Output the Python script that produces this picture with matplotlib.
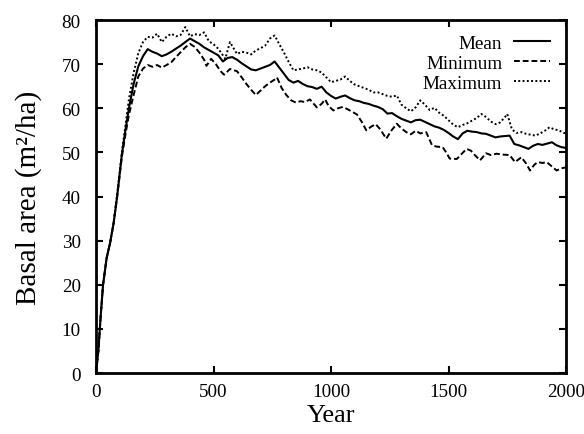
import numpy as np
import matplotlib
matplotlib.use("Agg")
import matplotlib.pyplot as plt

plt.rcParams['font.family'] = ['Liberation Serif', 'DejaVu Serif']

# values (year, basal area m2/ha)
mean_years = [0, 10, 20, 30, 45, 60, 75, 90, 110, 125, 140, 160, 180, 200, 220,
              240, 260, 280, 300, 320, 340, 360, 380, 400, 420, 440, 460, 480, 500,
              520, 540, 560, 580, 600, 620, 640, 660, 680, 700, 720, 740, 760, 780,
              800, 820, 840, 860, 880, 900, 920, 940, 960, 980, 1000, 1020, 1040,
              1060, 1080, 1100, 1120, 1140, 1160, 1180, 1200, 1220, 1240, 1260, 1280,
              1300, 1320, 1340, 1360, 1380, 1400, 1420, 1440, 1460, 1480, 1500, 1520,
              1540, 1560, 1580, 1600, 1620, 1640, 1660, 1680, 1700, 1720, 1740, 1760,
              1780, 1800, 1820, 1840, 1860, 1880, 1900, 1920, 1940, 1960, 1980, 2000]
mean_vals = [0, 5, 13, 20, 26, 29.5, 34, 40, 49.5, 55, 60, 65.5, 69.5, 71.8, 73.4,
             72.8, 72.4, 71.8, 72.2, 72.8, 73.5, 74.2, 75.0, 75.8, 75.2, 74.6, 73.8, 73.2, 72.6,
             72.0, 70.6, 71.4, 71.6, 71.0, 70.2, 69.5, 68.8, 68.6, 69.0, 69.4, 69.8, 70.6, 69.2,
             67.8, 66.4, 65.8, 66.2, 65.5, 65.0, 64.8, 64.4, 64.9, 63.6, 62.8, 62.2, 62.6,
             62.9, 62.3, 61.8, 61.6, 61.2, 61.0, 60.6, 60.3, 59.8, 58.8, 58.9, 58.2,
             57.6, 57.2, 56.8, 57.3, 57.4, 56.9, 56.4, 55.9, 55.6, 55.1, 54.4, 53.6,
             53.0, 54.3, 54.9, 54.7, 54.6, 54.3, 54.2, 53.8, 53.4, 53.6, 53.7, 53.8,
             51.9, 51.6, 51.2, 50.8, 51.5, 51.9, 51.7, 52.0, 52.3, 51.6, 51.2, 51.0]

min_years = [0, 10, 20, 30, 45, 60, 75, 90, 110, 125, 140, 160, 180, 200, 220,
             240, 260, 280, 300, 320, 340, 360, 380, 400, 420, 440, 460, 470, 490,
             510, 530, 545, 570, 600, 620, 640, 660, 680, 700, 720, 740, 760, 770,
             790, 810, 830, 850, 870, 890, 910, 940, 960, 975, 990, 1010, 1030, 1050,
             1070, 1090, 1110, 1130, 1150, 1170, 1190, 1210, 1235, 1255, 1280, 1300,
             1320, 1340, 1360, 1380, 1405, 1430, 1450, 1475, 1490, 1505, 1535, 1555,
             1577, 1595, 1610, 1634, 1660, 1680, 1705, 1730, 1760, 1783, 1810, 1830,
             1847, 1865, 1880, 1900, 1918, 1940, 1960, 1980, 2000]
min_vals = [0, 5, 13, 20, 26, 29.5, 34, 40, 49, 54, 58.5, 63, 67.2, 69.0, 69.8,
            69.4, 69.8, 69.2, 69.8, 70.4, 71.6, 72.7, 73.8, 74.6, 73.9, 72.6, 71.0, 69.6, 71.2,
            70.0, 68.4, 67.6, 68.9, 68.4, 67.0, 65.5, 64.2, 63.0, 64.0, 65.0, 65.8, 66.5, 67.0,
            64.6, 63.0, 61.8, 61.3, 61.6, 61.4, 62.0, 60.2, 61.0, 62.0, 60.5, 59.5, 60.0, 60.3,
            59.8, 59.2, 58.6, 57.0, 55.0, 55.8, 56.4, 55.2, 53.1, 54.8, 56.5, 55.4,
            54.6, 54.1, 54.9, 54.3, 54.6, 51.6, 51.3, 51.2, 50.0, 48.6, 48.5, 49.6,
            50.8, 50.4, 49.5, 48.2, 49.8, 49.4, 49.7, 49.5, 49.4, 47.8, 48.9, 47.5,
            45.9, 47.2, 47.8, 47.6, 47.8, 46.8, 45.9, 46.4, 46.6]

max_years = [0, 10, 20, 30, 45, 60, 75, 90, 110, 125, 140, 160, 180, 200, 220,
             240, 260, 280, 300, 320, 340, 360, 380, 400, 420, 440, 460, 480, 500,
             520, 540, 550, 570, 600, 620, 640, 660, 680, 700, 720, 740, 760, 780,
             800, 820, 840, 860, 880, 900, 920, 940, 960, 980, 1000, 1020, 1040,
             1060, 1080, 1100, 1120, 1140, 1160, 1180, 1200, 1220, 1240, 1260, 1280,
             1300, 1320, 1340, 1360, 1380, 1400, 1420, 1440, 1460, 1480, 1500, 1520,
             1540, 1560, 1580, 1600, 1620, 1640, 1660, 1680, 1700, 1720, 1740, 1750,
             1770, 1790, 1810, 1830, 1850, 1870, 1890, 1910, 1930, 1950, 1970, 1990, 2000]
max_vals = [0, 5, 13, 20, 26, 29.5, 34, 40.5, 50, 56, 62, 68, 72.5, 75.0, 76.2,
            76.0, 76.9, 75.0, 76.2, 76.9, 76.3, 76.6, 78.4, 76.3, 76.8, 76.6, 77.2, 75.2, 74.5,
            73.5, 72.0, 71.2, 75.0, 72.3, 72.8, 72.6, 72.2, 73.1, 73.6, 74.2, 75.8, 76.5, 74.5,
            72.6, 70.5, 68.6, 68.8, 69.0, 69.3, 68.8, 68.6, 68.1, 67.0, 65.9, 66.2, 66.5,
            67.2, 66.2, 65.4, 65.0, 64.6, 64.2, 63.6, 63.6, 63.2, 62.8, 62.6, 62.9,
            60.8, 60.0, 59.3, 60.2, 61.8, 60.8, 59.6, 60.1, 59.0, 58.3, 57.3, 56.3,
            55.7, 56.2, 56.6, 57.2, 57.8, 58.7, 58.0, 57.0, 56.4, 56.8, 58.0, 58.7,
            55.2, 54.4, 54.6, 54.2, 54.0, 53.8, 54.3, 54.9, 55.7, 55.2, 55.0, 54.4, 54.4]

fig = plt.figure(figsize=(5.84, 4.35), dpi=100)
ax = fig.add_axes([0.1644, 0.1402, 0.8048, 0.8115])

ax.plot(mean_years, mean_vals, color='black', lw=1.5, label='Mean')
ax.plot(min_years, min_vals, color='black', lw=1.4, ls=(0, (3, 1.5)), label='Minimum')
ax.plot(max_years, max_vals, color='black', lw=1.4, ls=(0, (1, 1.2)), label='Maximum')

ax.set_xlim(0, 2000)
ax.set_ylim(0, 80)
ax.set_xticks([0, 500, 1000, 1500, 2000])
ax.set_yticks(np.arange(0, 81, 10))
ax.tick_params(direction='in', top=True, right=True, length=5, width=1.5,
               labelsize=13.8)
ax.tick_params(axis='y', pad=11)
ax.tick_params(axis='x', pad=7)
for s in ax.spines.values():
    s.set_linewidth(2)

ax.set_xlabel('Year', fontsize=19, labelpad=3)
ax.set_ylabel('Basal area (m²/ha)', fontsize=21, labelpad=14)

ax.legend(loc='upper right', frameon=False, markerfirst=False, fontsize=13.8,
          handlelength=1.9, handletextpad=0.6, labelspacing=0.15,
          borderpad=0, borderaxespad=0, bbox_to_anchor=(0.966, 0.96))

fig.savefig('out.png', dpi=100)
